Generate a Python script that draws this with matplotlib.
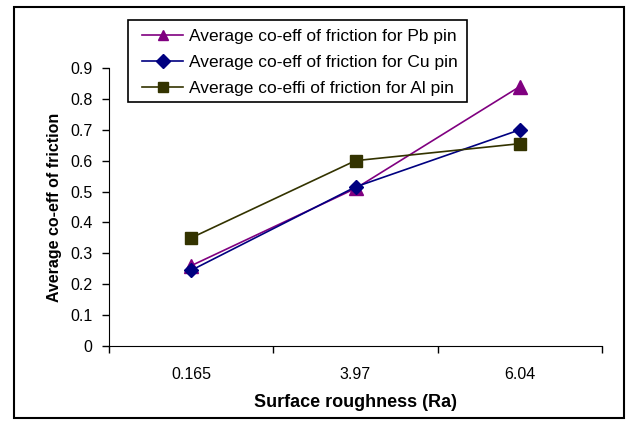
import matplotlib.pyplot as plt
from matplotlib.patches import Rectangle

plt.rcParams['font.family'] = ['Liberation Sans', 'DejaVu Sans']
plt.rcParams['font.size'] = 11.5

# surface roughness categories and friction values
roughness = ["0.165", "3.97", "6.04"]
pb_pin = [0.26, 0.51, 0.84]
cu_pin = [0.245, 0.515, 0.70]
al_pin = [0.35, 0.60, 0.655]

fig = plt.figure(figsize=(6.26, 4.21), dpi=100)
ax = fig.add_axes([109 / 626, 1 - 346 / 421, (602 - 109) / 626, (346 - 68) / 421])

x = range(len(roughness))
ax.plot(x, pb_pin, color='#800080', marker='^', markersize=10, lw=1.2,
        label="Average co-eff of friction for Pb pin")
ax.plot(x, cu_pin, color='#000080', marker='D', markersize=7, lw=1.2,
        label="Average co-eff of friction for Cu pin")
ax.plot(x, al_pin, color='#333300', marker='s', markersize=8, lw=1.2,
        label="Average co-effi of friction for Al pin")

ax.set_xlim(-0.5, 2.5)
ax.set_ylim(0, 0.9)
ax.set_yticks([i / 10 for i in range(10)])
ax.set_yticklabels(["0"] + ["%.1f" % (i / 10) for i in range(1, 10)])
ax.set_xticks(list(x))
ax.set_xticklabels(roughness)
ax.set_xticks([-0.5, 0.5, 1.5, 2.5], minor=True)
ax.tick_params(axis='x', which='major', length=0, pad=15)
ax.tick_params(axis='x', which='minor', length=5, width=1, direction='out')
ax.tick_params(axis='y', length=5, width=1, direction='out', pad=7)
ax.spines['top'].set_visible(False)
ax.spines['right'].set_visible(False)

ax.set_xlabel("Surface roughness (Ra)", fontweight='bold', fontsize=13, labelpad=9)
ax.set_ylabel("Average co-eff of friction", fontweight='bold', fontsize=11.5, labelpad=6)

# legend text/handles without frame; frame drawn separately to match the wider box
leg = fig.legend(loc='upper left', bbox_to_anchor=(134 / 626, 1 - 21 / 421),
                 frameon=False, fontsize=12.5,
                 handlelength=2.4, borderpad=0.45, labelspacing=0.62,
                 handletextpad=0.3, borderaxespad=0)
for h in leg.legend_handles:
    h.set_markersize(7)
fig.patches.append(Rectangle((128 / 626, 1 - 102 / 421), 339 / 626, 82 / 421,
                             transform=fig.transFigure, fill=True,
                             facecolor='white', edgecolor='black', lw=1.2,
                             zorder=0.5))

fig.patches.append(Rectangle((14 / 626, 1 - 418 / 421), 610 / 626, 411 / 421,
                             transform=fig.transFigure, fill=False,
                             edgecolor='black', lw=1.5))

fig.savefig("out.png", dpi=100)
